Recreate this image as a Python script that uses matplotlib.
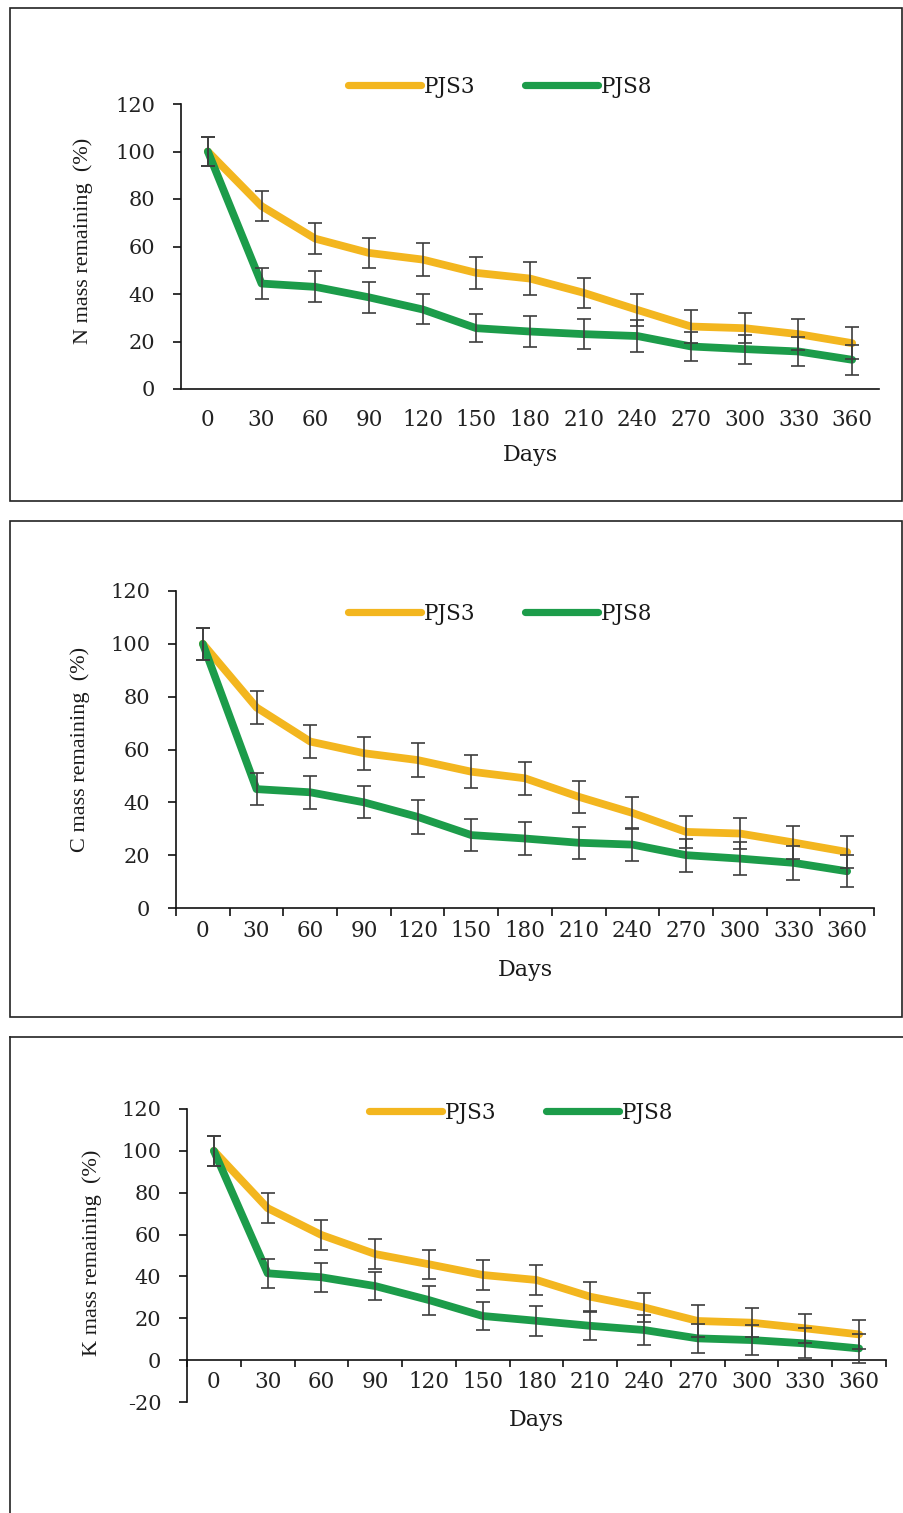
import numpy as np
import matplotlib
matplotlib.use("Agg")
import matplotlib.pyplot as plt
from matplotlib.lines import Line2D
from matplotlib.patches import Rectangle

plt.rcParams['axes.unicode_minus'] = False

# ---------------- data ----------------
days = ['0', '30', '60', '90', '120', '150', '180', '210', '240', '270', '300', '330', '360']
series_names = ['PJS3', 'PJS8']

n_pjs3 = [100, 77.0, 63.3, 57.3, 54.5, 48.9, 46.5, 40.5, 33.3, 26.3, 25.6, 23.1, 19.3]
n_pjs8 = [100, 44.4, 43.0, 38.6, 33.5, 25.6, 24.2, 23.1, 22.3, 17.9, 16.8, 15.8, 12.3]
n_err3 = [6.3, 6.3, 6.4, 6.4, 6.8, 6.7, 6.9, 6.3, 6.6, 7.0, 6.4, 6.5, 6.8]
n_err8 = [6.3, 6.4, 6.5, 6.4, 6.3, 5.9, 6.4, 6.3, 6.6, 5.9, 6.1, 6.3, 6.3]

c_pjs3 = [100, 75.9, 63.0, 58.6, 56.0, 51.6, 49.1, 42.1, 36.0, 28.8, 28.2, 24.8, 21.2]
c_pjs8 = [100, 45.0, 43.8, 40.0, 34.5, 27.6, 26.3, 24.7, 24.0, 20.0, 18.7, 17.1, 13.9]
c_err3 = [6.1, 6.2, 6.1, 6.3, 6.4, 6.2, 6.3, 6.0, 6.1, 6.2, 6.0, 6.2, 6.1]
c_err8 = [6.1, 6.0, 6.2, 6.1, 6.3, 6.1, 6.1, 6.1, 6.1, 6.2, 6.2, 6.4, 6.0]

k_pjs3 = [100, 72.6, 59.8, 50.7, 45.8, 40.7, 38.3, 30.3, 25.2, 18.7, 17.9, 15.2, 12.3]
k_pjs8 = [100, 41.5, 39.6, 35.4, 28.7, 21.1, 18.8, 16.4, 14.4, 10.4, 9.6, 8.0, 5.6]
k_err3 = [7.0, 7.2, 7.1, 7.0, 7.0, 7.1, 7.1, 7.2, 7.1, 7.5, 6.9, 7.0, 7.0]
k_err8 = [7.0, 6.9, 6.9, 6.9, 6.9, 6.9, 7.1, 6.9, 7.3, 7.0, 7.0, 7.2, 6.8]

ylabels = ['N mass remaining  (%)', 'C mass remaining  (%)', 'K mass remaining  (%)']
xlabel = 'Days'
yticks_np = [0, 20, 40, 60, 80, 100, 120]
yticks_k = [-20, 0, 20, 40, 60, 80, 100, 120]

# ---------------- style ----------------
W, H = 904, 1513
DPI = 100
YEL = '#F3B61F'
GRN = '#1C9C4A'
ERR = '#3d3d3d'
TXT = '#222222'
HFONT = 'DejaVu Serif'
VFONT = 'Liberation Serif'

fig = plt.figure(figsize=(W / DPI, H / DPI), dpi=DPI)
fig.patch.set_facecolor('white')


def px_axes(left, right, top_px, bottom_px):
    return [left / W, 1 - bottom_px / H, (right - left) / W, (bottom_px - top_px) / H]


def panel(rect, s3, s8, e3, e8, ylab, yticks, ylim, xticks_boundary, xpad, xtick_len,
          ylab_xy, xlab_y, legend_xy, zero_axis=False):
    ax = fig.add_axes(rect)
    ax.set_facecolor('none')
    l3, = ax.plot(days, s3, color=YEL, lw=5.6, solid_capstyle='round', zorder=2, label=series_names[0])
    l8, = ax.plot(days, s8, color=GRN, lw=5.6, solid_capstyle='round', zorder=3, label=series_names[1])
    ax.errorbar(days, s3, yerr=e3, fmt='none', ecolor=ERR, elinewidth=1.2, capsize=4.8,
                capthick=1.2, zorder=4)
    ax.errorbar(days, s8, yerr=e8, fmt='none', ecolor=ERR, elinewidth=1.2, capsize=4.8,
                capthick=1.2, zorder=4)
    ax.set_xlim(-0.5, len(days) - 0.5)
    ax.set_ylim(*ylim)
    ax.set_yticks(yticks)
    for s in ['top', 'right']:
        ax.spines[s].set_visible(False)
    for s in ['left', 'bottom']:
        ax.spines[s].set_linewidth(1.2)
        ax.spines[s].set_color('#111111')
    if zero_axis:
        ax.spines['bottom'].set_position(('data', 0))
    ax.tick_params(axis='y', direction='out', length=6, width=1.2, color='#111111',
                   pad=12.5, labelsize=15, labelcolor=TXT)
    ax.tick_params(axis='x', which='major', length=0, pad=xpad, labelsize=15.5, labelcolor=TXT)
    if xticks_boundary:
        ax.set_xticks(np.arange(-0.5, len(days), 1.0), minor=True)
        ax.tick_params(axis='x', which='minor', direction='out', length=xtick_len, width=1.2,
                       color='#111111')
    for t in ax.get_xticklabels() + ax.get_yticklabels():
        t.set_fontfamily(HFONT)
    ax.set_ylabel(ylab, fontsize=16, family=VFONT, color='#1a1a1a')
    ax.yaxis.set_label_coords(*ylab_xy)
    ax.yaxis.label.set_va('center')
    ax.set_xlabel(xlabel, fontsize=16, family=HFONT, color='#1a1a1a')
    ax.xaxis.set_label_coords(0.5, xlab_y)
    ax.xaxis.label.set_va('center')
    leg = ax.legend(handles=[l3, l8], loc='center', bbox_to_anchor=legend_xy,
                    bbox_transform=fig.transFigure, ncol=2, frameon=False,
                    handlelength=3.4, handletextpad=0.12, columnspacing=2.3,
                    prop={'family': HFONT, 'size': 15.5})
    for t in leg.get_texts():
        t.set_color('#1a1a1a')
    for h in leg.legend_handles:
        h.set_linewidth(5.2)
    return ax


# panel 1 (N)
panel(px_axes(181, 879, 104, 389), n_pjs3, n_pjs8, n_err3, n_err8, ylabels[0], yticks_np, (0, 120),
      False, 14.5, 0, (-0.14, 0.52), -0.232, (500 / W, 1 - 87 / H))
# panel 2 (C)
panel(px_axes(176, 874, 591, 908), c_pjs3, c_pjs8, c_err3, c_err8, ylabels[1], yticks_np, (0, 120),
      True, 8.5, 6, (-0.137, 0.5), -0.196, (500 / W, 1 - 614 / H))
# panel 3 (K)
panel(px_axes(187, 886, 1109, 1402), k_pjs3, k_pjs8, k_err3, k_err8, ylabels[2], yticks_k, (-20, 120),
      True, 7.5, 5, (-0.136, 0.51), -0.061, (521 / W, 1 - 1113 / H), zero_axis=True)

# panel frames
def frame(x0, y0, x1, y1):
    fig.add_artist(Rectangle((x0 / W, 1 - y1 / H), (x1 - x0) / W, (y1 - y0) / H,
                             transform=fig.transFigure, fill=False, lw=1.2, ec='#222222'))

frame(10, 8, 902, 501)
frame(10, 521, 902, 1017)
fig.add_artist(Line2D([10 / W, 10 / W], [0, 1 - 1037 / H], transform=fig.transFigure,
                      lw=1.2, color='#222222'))
fig.add_artist(Line2D([10 / W, 1.0], [1 - 1037 / H, 1 - 1037 / H], transform=fig.transFigure,
                      lw=1.2, color='#222222'))

fig.savefig('out.png', dpi=DPI, facecolor='white')
